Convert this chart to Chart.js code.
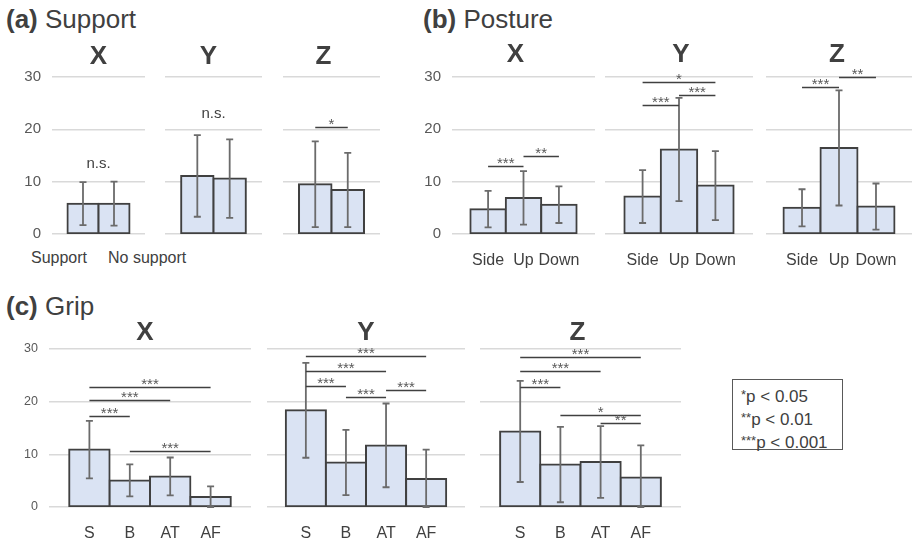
<!DOCTYPE html>
<html>
<head>
<meta charset="utf-8">
<script src="https://cdn.jsdelivr.net/npm/chart.js@4.4.0/dist/chart.umd.min.js"></script>
<style>
body{margin:0;width:912px;height:545px;position:relative;overflow:hidden;background:#fff;
 font-family:"Liberation Sans",Arial,sans-serif;color:#404040}
.panel{position:absolute;font-size:26px;line-height:26px;white-space:nowrap}
.txt{position:absolute;font-size:16px;line-height:18px;white-space:nowrap}
#key{position:absolute;left:732px;top:379px;width:111px;height:71px;border:1.5px solid #595959;
 font-size:17px;line-height:21px;padding:4px 0 0 8px;box-sizing:border-box}
#key span{font-size:13px;vertical-align:3px}
</style>
</head>
<body>
<div class="panel" style="left:6px;top:6px"><b>(a)</b> Support</div>
<div class="panel" style="left:423px;top:6px"><b>(b)</b> Posture</div>
<div class="panel" style="left:6px;top:293px"><b>(c)</b> Grip</div>
<div class="txt" style="left:31px;top:249px">Support</div>
<div class="txt" style="left:108px;top:249px">No support</div>
<div id="key"><span>*</span>p &lt; 0.05<br><span>**</span>p &lt; 0.01<br><span>***</span>p &lt; 0.001</div>
<script>
var axisNames = ['X', 'Y', 'Z'];
var yTicks = [0, 10, 20, 30];

// (a) support
var supportLabels = ['Support', 'No support'];
var supportMean = [[5.8, 5.8], [11.1, 10.6], [9.5, 8.4]];
var supportSd = [[4.1, 4.2], [7.8, 7.5], [8.2, 7.1]];
// significance: [from, to, height, mark]
var supportSig = [
  [[0, 1, 12.6, 'n.s.']],
  [[0, 1, 22.1, 'n.s.']],
  [[0, 1, 20.4, '*']]
];

// (b) posture
var postureLabels = ['Side', 'Up', 'Down'];
var postureMean = [[4.75, 6.9, 5.6], [7.15, 16.15, 9.25], [5.0, 16.45, 5.25]];
var postureSd = [[3.5, 5.1, 3.5], [5.05, 9.85, 6.6], [3.55, 11.0, 4.4]];
var postureSig = [
  [[0, 1, 13.05, '***'], [1, 2, 14.9, '**']],
  [[0, 1, 24.65, '***'], [1, 2, 26.55, '***'], [0, 2, 29.0, '*']],
  [[0, 1, 28.1, '***'], [1, 2, 29.96, '**']]
];

// (c) grip
var gripLabels = ['S', 'B', 'AT', 'AF'];
var gripMean = [[10.9, 5.05, 5.8, 1.9], [18.35, 8.45, 11.7, 5.3], [14.35, 8.05, 8.55, 5.6]];
var gripSd = [[5.45, 3.05, 3.6, 2.0], [9.0, 6.2, 7.95, 5.6], [9.6, 7.15, 6.8, 6.1]];
var gripSig = [
  [[0, 1, 17.3, '***'], [0, 2, 20.25, '***'], [0, 3, 22.85, '***'], [1, 3, 10.6, '***']],
  [[0, 3, 28.7, '***'], [0, 2, 25.9, '***'], [0, 1, 22.9, '***'], [1, 2, 20.8, '***'], [2, 3, 22.15, '***']],
  [[0, 3, 28.4, '***'], [0, 2, 25.8, '***'], [0, 1, 22.85, '***'], [1, 3, 17.5, '*'], [2, 3, 15.95, '**']]
];

var FONT = '"Liberation Sans", Arial, sans-serif';

function makeChart(c) {
  var cv = document.createElement('canvas');
  var w = c.yW + c.plotW, h = c.padTop + c.plotH + c.xH;
  cv.width = w; cv.height = h;
  cv.style.cssText = 'position:absolute;left:' + (c.left - c.yW) + 'px;top:' + (c.top - c.padTop) +
    'px;width:' + w + 'px;height:' + h + 'px';
  document.body.appendChild(cv);

  var n = c.labels.length;
  var pad = (n / c.cat - n) / 2;

  var extras = {
    id: 'extras',
    afterDatasetsDraw: function(chart) {
      var ctx = chart.ctx, ys = chart.scales.y, bars = chart.getDatasetMeta(0).data;
      ctx.save();
      // error bars
      ctx.strokeStyle = '#6b6b6b';
      ctx.lineWidth = 1.8;
      bars.forEach(function(b, i) {
        var hi = ys.getPixelForValue(c.mean[i] + c.sd[i]);
        var lo = ys.getPixelForValue(Math.max(0, c.mean[i] - c.sd[i]));
        ctx.beginPath();
        ctx.moveTo(b.x, hi); ctx.lineTo(b.x, lo);
        ctx.moveTo(b.x - 3.5, hi); ctx.lineTo(b.x + 3.5, hi);
        ctx.moveTo(b.x - 3.5, lo); ctx.lineTo(b.x + 3.5, lo);
        ctx.stroke();
      });
      // significance brackets
      ctx.textAlign = 'center';
      c.sig.forEach(function(s) {
        var x1 = bars[s[0]].x, x2 = bars[s[1]].x, y = Math.round(ys.getPixelForValue(s[2])) + 0.5;
        if (s[3] === 'n.s.') {
          ctx.fillStyle = '#404040';
          ctx.font = '15px ' + FONT;
          ctx.textBaseline = 'middle';
          ctx.fillText(s[3], (x1 + x2) / 2, y - 5);
          return;
        }
        ctx.strokeStyle = '#404040';
        ctx.lineWidth = 1.4;
        ctx.beginPath();
        ctx.moveTo(x1, y); ctx.lineTo(x2, y);
        ctx.stroke();
        ctx.fillStyle = '#595959';
        ctx.font = '15px ' + FONT;
        ctx.textBaseline = 'alphabetic';
        ctx.fillText(s[3], (x1 + x2) / 2, y + 1);
      });
      // subplot title
      ctx.fillStyle = '#404040';
      ctx.font = 'bold 26px ' + FONT;
      ctx.textBaseline = 'middle';
      ctx.fillText(c.title, (chart.chartArea.left + chart.chartArea.right) / 2 + c.dx, c.titleY);
      ctx.restore();
    }
  };

  new Chart(cv, {
    type: 'bar',
    data: {
      datasets: [{
        data: c.mean.map(function(v, i) { return { x: i, y: v }; }),
        backgroundColor: '#dae3f3',
        borderColor: '#404040',
        borderWidth: 2,
        inflateAmount: 1,
        borderSkipped: false,
        barPercentage: 1,
        categoryPercentage: 1
      }]
    },
    options: {
      responsive: false,
      animation: false,
      devicePixelRatio: 1,
      layout: { padding: { top: c.padTop, left: 0, right: 0, bottom: 0 } },
      plugins: { legend: { display: false }, tooltip: { enabled: false } },
      scales: {
        x: {
          type: 'linear',
          offset: false,
          bounds: 'data',
          min: -0.5 - pad,
          max: n - 0.5 + pad,
          afterBuildTicks: function(s) { s.ticks = c.labels.map(function(l, i) { return { value: i }; }); },
          grid: { display: false },
          border: { display: false },
          ticks: {
            display: c.showX, color: '#404040', padding: 9, maxRotation: 0, autoSkip: false,
            font: { size: 16, family: FONT },
            callback: function(v) { return c.labels[v]; }
          },
          afterFit: function(s) { s.height = c.xH; }
        },
        y: {
          min: 0, max: 30,
          afterBuildTicks: function(s) { s.ticks = yTicks.map(function(v) { return { value: v }; }); },
          grid: { color: '#d9d9d9', lineWidth: 1.5, drawTicks: false },
          border: { display: false },
          ticks: { display: c.showY, color: '#595959', padding: 11, font: { size: c.yFont, family: FONT } },
          afterFit: function(s) { s.width = c.yW; }
        }
      }
    },
    plugins: [extras]
  });
}

var rows = [
  { labels: supportLabels, mean: supportMean, sd: supportSd, sig: supportSig, top: 77, plotH: 157, showX: false, yFont: 15, titleY: 20,
    cols: [{ left: 52, plotW: 93, cat: 0.667, dx: 0 }, { left: 165, plotW: 97, cat: 0.667, dx: -5 }, { left: 283, plotW: 97, cat: 0.67, dx: -8 }] },
  { labels: postureLabels, mean: postureMean, sd: postureSd, sig: postureSig, top: 77, plotH: 157, showX: true, yFont: 15, titleY: 18,
    cols: [{ left: 452, plotW: 143, cat: 0.743, dx: -8 }, { left: 605, plotW: 148, cat: 0.738, dx: 2 }, { left: 766, plotW: 146, cat: 0.76, dx: -2 }] },
  { labels: gripLabels, mean: gripMean, sd: gripSd, sig: gripSig, top: 349, plotH: 158, showX: true, yFont: 12.5, titleY: 24,
    cols: [{ left: 49, plotW: 202, cat: 0.8, dx: -5 }, { left: 267, plotW: 198, cat: 0.81, dx: 0 }, { left: 480, plotW: 201, cat: 0.8, dx: -3 }] }
];

rows.forEach(function(r) {
  r.cols.forEach(function(col, k) {
    makeChart({
      labels: r.labels, mean: r.mean[k], sd: r.sd[k], sig: r.sig[k], title: axisNames[k],
      left: col.left, plotW: col.plotW, cat: col.cat, dx: col.dx,
      top: r.top, plotH: r.plotH, padTop: 40, xH: 36,
      yW: k === 0 ? 44 : 0, showY: k === 0, showX: r.showX, yFont: r.yFont, titleY: r.titleY
    });
  });
});
</script>
</body>
</html>
